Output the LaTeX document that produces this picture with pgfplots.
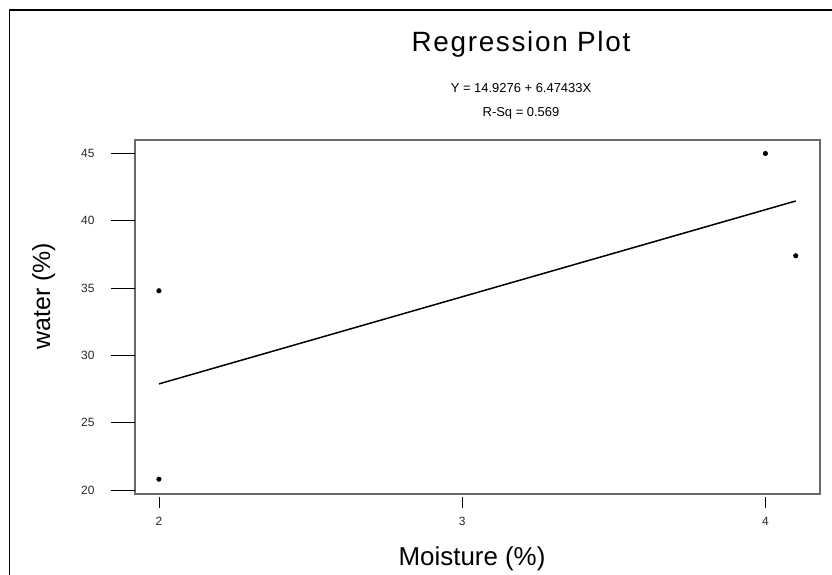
\documentclass[border=0pt]{standalone}
\usepackage{fontspec}
\setmainfont{Liberation Sans}
\newfontfamily\titlefont[LetterSpace=6]{Liberation Sans}
\usepackage{pgfplots}
\pgfplotsset{compat=1.18}
\definecolor{boxgray}{RGB}{105,105,105}

\pgfplotsset{regbox/.style={
    scale only axis,
    width=685bp, height=354bp,
    at={(135bp,-140bp)}, anchor=north west,
    xmin=1.921, xmax=4.18,
    ymin=19.70, ymax=46.0,
    /pgf/number format/assume math mode=true,
    tick label style={font=\fontsize{12}{14}\selectfont, text=black!85},
    tick align=outside,
}}

\begin{document}
\begin{tikzpicture}
  \path[use as bounding box] (0bp,0bp) rectangle (832bp,-575bp);
  \draw[line width=1.1bp] (9.5bp,-575bp) -- (9.5bp,-10bp) -- (832bp,-10bp);

  % title and fit
  \node[anchor=base, font=\titlefont\fontsize{28}{32}\selectfont] at (521bp,-51bp) {Regression Plot};
  \node[anchor=base, font=\fontsize{13}{15}\selectfont] at (521bp,-92bp) {Y = 14.9276 + 6.47433X};
  \node[anchor=base, font=\fontsize{13}{15}\selectfont] at (521bp,-116bp) {R-Sq = 0.569};

  % box, x ticks, data
  \begin{axis}[regbox,
      axis line style={draw=boxgray, line width=1.4bp},
      xtick={2,3,4}, ytick=\empty,
      xtick pos=bottom,
      major tick length=11bp,
      tick style={black, line width=0.9bp, yshift=-3bp},
      xticklabel style={yshift=-9bp},
      xlabel={Moisture (\%)},
      xlabel style={at={(axis description cs:0.492,-0.2006)}, anchor=base,
        font=\fontsize{26}{30}\selectfont},
    ]
    % fitted line: Y = 14.9276 + 6.47433X
    \addplot[black, line width=1.5bp] coordinates {(2,27.88) (4.1,41.47)};
    \addplot[only marks, mark=*, mark size=2.3bp, black] coordinates {
      (2,34.8) (2,20.8) (4,45.0) (4.1,37.4)};
  \end{axis}

  % y ticks (longer)
  \begin{axis}[regbox,
      hide x axis,
      axis line style={draw=none},
      ytick={20,25,...,45},
      ytick pos=left,
      major tick length=24bp,
      tick style={black, line width=0.9bp},
      yticklabel style={xshift=-13bp},
      ylabel={water (\%)},
      ylabel style={at={(axis description cs:-0.124,0.559)}, anchor=base,
        rotate=0, font=\fontsize{25}{29}\selectfont},
    ]
  \end{axis}
\end{tikzpicture}
\end{document}
